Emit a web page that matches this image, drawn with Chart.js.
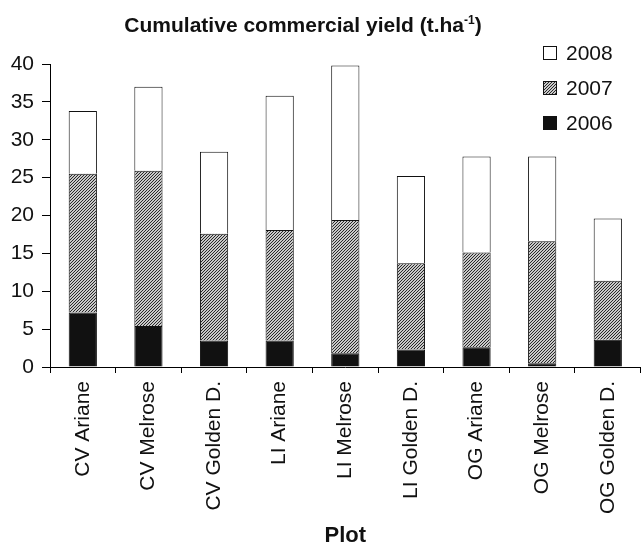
<!DOCTYPE html>
<html><head><meta charset="utf-8">
<script src="https://cdn.jsdelivr.net/npm/chart.js@4"></script>
<style>html,body{margin:0;padding:0;background:#fff;overflow:hidden}#wrap{width:641px;height:547px;position:relative}</style>
</head><body><div id="wrap"><canvas id="c" width="641" height="547"></canvas></div>
<script>
const categories = ['CV Ariane','CV Melrose','CV Golden D.','LI Ariane','LI Melrose','LI Golden D.','OG Ariane','OG Melrose','OG Golden D.'];
const y2006 = [7.2, 5.4, 3.5, 3.5, 1.8, 2.3, 2.6, 0.5, 3.6];
const y2007 = [18.3, 20.5, 14.1, 14.6, 17.6, 11.4, 12.5, 16.1, 7.8];
const y2008 = [8.3, 11.1, 10.8, 17.7, 20.4, 11.5, 12.7, 11.2, 8.2];
const seriesNames = ['2006','2007','2008'];
const yMin = 0, yMax = 40, yStep = 5;
const titleMain = 'Cumulative commercial yield (t.ha';
const titleSup = '-1';
const titleEnd = ')';
const xTitle = 'Plot';

const FONT = "'Liberation Sans', Arial, Helvetica, sans-serif";
const INK = '#111';

function makeHatch(){
  const p = document.createElement('canvas');
  p.width = 3; p.height = 3;
  const g = p.getContext('2d');
  const img = g.createImageData(3,3);
  for(let y=0;y<3;y++)for(let x=0;x<3;x++){
    const i=(y*3+x)*4;
    const dark = ((x+y)%3)===0;
    const v = dark?40:200;
    img.data[i]=v;img.data[i+1]=v;img.data[i+2]=v;img.data[i+3]=255;
  }
  g.putImageData(img,0,0);
  return document.getElementById('c').getContext('2d').createPattern(p,'repeat');
}
const hatch = makeHatch();

const fills = [INK, hatch, '#ffffff'];
const dataSets = [y2006, y2007, y2008];

const overlay = {
  id:'overlay',
  afterDraw(chart){
    const ctx = chart.ctx;
    ctx.save();
    // title
    ctx.fillStyle = INK;
    ctx.textBaseline = 'alphabetic';
    const fMain = "bold 21px " + FONT;
    const fSup = "bold 12px " + FONT;
    ctx.font = fMain; const w1 = ctx.measureText(titleMain).width; const w3 = ctx.measureText(titleEnd).width;
    ctx.font = fSup; const w2 = ctx.measureText(titleSup).width;
    const total = w1 + w2 + w3;
    const cx = 303, base = 32;
    let x = cx - total/2;
    ctx.font = fMain; ctx.textAlign='left'; ctx.fillText(titleMain, x, base); x += w1;
    ctx.font = fSup; ctx.fillText(titleSup, x, base-8); x += w2;
    ctx.font = fMain; ctx.fillText(titleEnd, x, base);
    // legend
    const rows = [2,1,0];
    const ys = [53, 88, 123];
    ctx.font = "21px " + FONT;
    ctx.textBaseline = 'middle';
    rows.forEach((di, k) => {
      const yc = ys[k];
      const bx = 543, s = 14;
      ctx.fillStyle = fills[di];
      ctx.fillRect(bx, yc - s/2, s, s);
      ctx.strokeStyle = INK; ctx.lineWidth = 1;
      ctx.strokeRect(bx+0.5, yc - s/2 + 0.5, s-1, s-1);
      ctx.fillStyle = INK;
      ctx.fillText(seriesNames[di], 566, yc+1);
    });
    ctx.restore();
  }
};

new Chart(document.getElementById('c'), {
  type:'bar',
  data:{
    labels: categories,
    datasets: dataSets.map((d,i)=>({
      label: seriesNames[i],
      data: d,
      backgroundColor: fills[i],
      borderColor: INK,
      borderWidth: 1,
      borderSkipped: 'start',
      categoryPercentage: 1,
      barPercentage: 0.43
    }))
  },
  options:{
    responsive:false,
    devicePixelRatio:1,
    animation:false,
    layout:{padding:{top:64,right:0,left:0,bottom:0}},
    plugins:{legend:{display:false},title:{display:false},tooltip:{enabled:false}},
    scales:{
      x:{
        stacked:true,
        offset:true,
        grid:{display:true,drawOnChartArea:false,drawTicks:true,tickLength:6,color:'#000',offset:true,lineWidth:1},
        border:{display:true,color:'#000',width:1},
        ticks:{minRotation:90,maxRotation:90,autoSkip:false,font:{family:FONT,size:21},color:INK,padding:8},
        title:{display:true,text:xTitle,font:{family:FONT,size:22,weight:'bold',lineHeight:1},color:INK,padding:{top:0,bottom:0}},
        afterFit(s){ s.height = 180; }
      },
      y:{
        stacked:true,
        min:yMin,max:yMax,
        grid:{display:true,drawOnChartArea:false,drawTicks:true,tickLength:8,color:'#000',lineWidth:1},
        border:{display:true,color:'#000',width:1},
        ticks:{stepSize:yStep,font:{family:FONT,size:21},color:INK,padding:8},
        afterFit(s){ s.width = 50; }
      }
    }
  },
  plugins:[overlay]
});
</script>
</body></html>
